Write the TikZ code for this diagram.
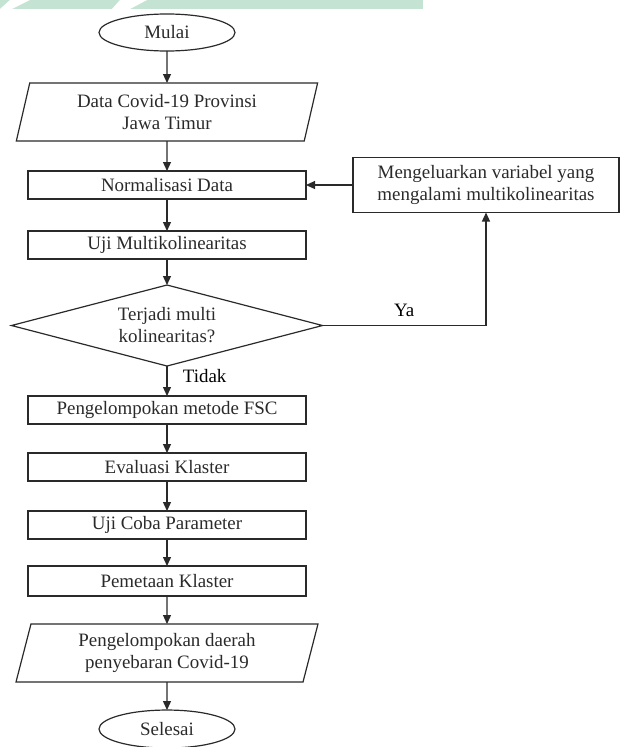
\documentclass[tikz,border=0pt]{standalone}
\usepackage{fontspec}
\setmainfont{Liberation Serif}
\usetikzlibrary{arrows.meta,positioning,shapes.geometric}
\definecolor{wmgreen}{HTML}{C5E3D3}
\definecolor{ink}{HTML}{2A2A2A}

\begin{document}
\begin{tikzpicture}[
    x=1bp,y=1bp,
    node distance=29bp,
    font=\fontsize{19}{22}\selectfont,
    base/.style={draw=ink,line width=1.2bp,text=ink,inner sep=0pt,outer sep=0pt,align=center},
    proc/.style={base,rectangle,minimum width=278bp,minimum height=28bp},
    io/.style={base,trapezium,trapezium left angle=76,trapezium right angle=104,trapezium stretches=true,minimum width=302bp,minimum height=58bp},
    term/.style={base,ellipse,minimum width=136bp,minimum height=37bp},
    dec/.style={base,diamond,aspect=3.8,minimum width=311bp,minimum height=81bp},
    arr/.style={-{Triangle[length=9bp,width=8bp]},line width=1.2bp,draw=ink}
]
% page size, watermark strip along the top edge
\useasboundingbox (0,0) rectangle (623,-747);
\fill[wmgreen] (0,0) rectangle (423,-9);
\fill[white] (10,0) -- (30,0) -- (12,-9) -- (0,-9) -- cycle;
\fill[white] (120,0) -- (147,0) -- (130,-9) -- (112,-9) -- cycle;

\node[term] (mulai) at (167,-32.5) {Mulai};
\node[io,below=32bp of mulai] (data) {Data Covid-19 Provinsi\\Jawa Timur};
\node[proc,below=30bp of data] (norm) {Normalisasi Data};
\node[proc,below=32bp of norm] (uji) {Uji Multikolinearitas};
\node[dec,below=26bp of uji] (multi) {Terjadi multi\\kolinearitas?};
\node[proc,below=30bp of multi] (fsc) {Pengelompokan metode FSC};
\node[proc,below=of fsc] (eval) {Evaluasi Klaster};
\node[proc,below=30bp of eval] (coba) {Uji Coba Parameter};
\node[proc,below=27bp of coba,minimum height=30bp] (peta) {Pemetaan Klaster};
\node[io,below=28bp of peta] (hasil) {Pengelompokan daerah\\penyebaran Covid-19};
\node[term,below=28bp of hasil,minimum height=38bp] (selesai) {Selesai};
\node[proc,right=47bp of norm,minimum width=266bp,minimum height=55bp] (keluar) {Mengeluarkan variabel yang\\mengalami multikolinearitas};

% main flow
\foreach \a/\b in {mulai/data,data/norm,norm/uji,uji/multi,fsc/eval,eval/coba,coba/peta,peta/hasil,hasil/selesai}
  \draw[arr] (\a) -- (\b);
\draw[arr] (multi) -- node[right=12bp,pos=0.35] {Tidak} (fsc);

% loop back when multicollinearity is found
\draw[arr] (multi.east) -| node[pos=0.25,above=5bp] {Ya} (keluar.south);
\draw[arr] (keluar) -- (norm);
\end{tikzpicture}
\end{document}
